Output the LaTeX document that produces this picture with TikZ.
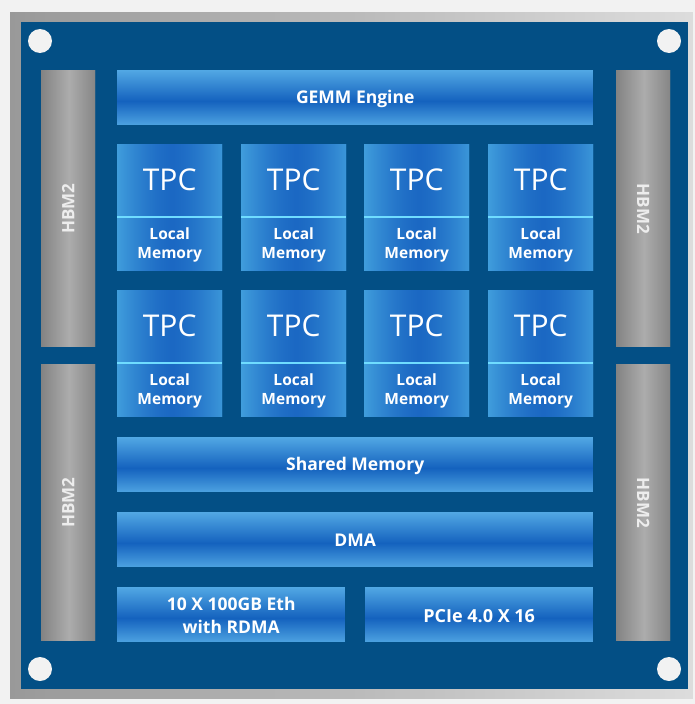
\documentclass[tikz,border=0pt]{standalone}
\usepackage{fontspec}
\setmainfont{Open Sans}
\definecolor{pagebg}{HTML}{F2F2F2}
\definecolor{board}{HTML}{034F85}
\definecolor{blight}{HTML}{52A8E4}
\definecolor{bdark}{HTML}{1462BE}
\definecolor{tlight}{HTML}{409DDC}
\definecolor{tdark}{HTML}{1B68C3}
\definecolor{divline}{HTML}{6FDCFF}
\definecolor{gdark}{HTML}{838383}
\definecolor{glight}{HTML}{ACACAC}
\definecolor{fdark}{HTML}{999999}
\definecolor{flight}{HTML}{DCDCDC}
\definecolor{hbmtext}{HTML}{EDEDED}
\begin{document}
\begin{tikzpicture}[x=1pt,y=-1pt,
  vgrad/.style={path picture={
    \foreach \i in {0,...,54}{
      \pgfmathsetmacro\p{\i<31 ? 100*(1-\i/31) : 88*(\i-31)/23}
      \pgfmathsetmacro\yb{\i+1.4}
      \fill[blight!\p!bdark] ([yshift=-\i pt]path picture bounding box.north west) rectangle ([yshift=-\yb pt]path picture bounding box.north east);
    }}},
  hgradT/.style={path picture={
    \foreach \i in {0,...,105}{
      \pgfmathsetmacro\p{100*(abs(\i-55)/55)^1.5}
      \pgfmathsetmacro\xb{\i+1.4}
      \fill[tlight!\p!tdark] ([xshift=\i pt]path picture bounding box.north west) rectangle ([xshift=\xb pt]path picture bounding box.south west);
    }}},
  hgradH/.style={path picture={
    \foreach \i in {0,...,54}{
      \pgfmathsetmacro\p{abs(\i-28)/28*100}
      \pgfmathsetmacro\xb{\i+1.4}
      \fill[gdark!\p!glight] ([xshift=\i pt]path picture bounding box.north west) rectangle ([xshift=\xb pt]path picture bounding box.south west);
    }}},
  hbar/.style={rectangle, anchor=north west, inner sep=0pt, minimum width=476pt, minimum height=54pt,
    vgrad, text=white, font=\fontsize{17.5}{21}\selectfont\bfseries},
  sbar/.style={hbar, minimum width=228pt, font=\fontsize{18}{22}\selectfont\bfseries},
  barlab/.style={text=white, font=\fontsize{17.5}{21}\selectfont\bfseries},
  tpc/.style={rectangle, anchor=north west, inner sep=0pt, minimum width=105pt, minimum height=127pt, hgradT},
  hbm/.style={rectangle, anchor=north west, inner sep=0pt, minimum width=54pt, minimum height=277pt, hgradH},
  hbmlab/.style={text=hbmtext, font=\fontsize{17}{20}\selectfont\bfseries},
  hole/.style={circle, fill=pagebg, minimum size=24pt, inner sep=0pt},
  tpclab/.style={text=white, font=\fontsize{30}{34}\selectfont},
  lmlab/.style={text=white, align=center, font=\fontsize{15.5}{19.5}\selectfont\bfseries},
]
\useasboundingbox (0,0) rectangle (695,704);
\fill[pagebg] (0,0) rectangle (695,704);
% metal frame
\foreach \i in {0,...,136}{
  \pgfmathsetmacro\p{100*(1-\i/136)}
  \pgfmathsetmacro\xa{10+5*\i}
  \pgfmathsetmacro\xb{\xa+5.5}
  \fill[fdark!\p!flight] (\xa,12) rectangle (\xb,699);
}
\fill[pagebg] (693,0) rectangle (695,704);
\fill[board] (21,22) rectangle (688,689);

\node[hole] (h1) at (40,41) {};
\node[hole] (h2) at (669,41) {};
\node[hole] (h3) at (40,669) {};
\node[hole] (h4) at (669,669) {};

% HBM2 stacks
\node[hbm] (hbmL1) at (41,70) {};
\node[hbm] (hbmL2) at (41,364) {};
\node[hbm] (hbmR1) at (616,70) {};
\node[hbm] (hbmR2) at (616,364) {};
\node[hbmlab, rotate=90] (tL1) at (hbmL1.center) {HBM2};
\node[hbmlab, rotate=90] (tL2) at (hbmL2.center) {HBM2};
\node[hbmlab, rotate=-90] (tR1) at (hbmR1.center) {HBM2};
\node[hbmlab, rotate=-90] (tR2) at (hbmR2.center) {HBM2};

% bars
\node[hbar] (gemm) at (117,70) {};
\node[hbar] (shm) at (117,437) {};
\node[hbar] (dma) at (117,512) {};
\node[sbar] (eth) at (117,587) {};
\node[sbar] (pcie) at (365,587) {};
\node[barlab] (gemmT) at ([yshift=-1.5pt]gemm.center) {GEMM Engine};
\node[barlab] (shmT) at ([yshift=-1.5pt]shm.center) {Shared Memory};
\node[barlab] (dmaT) at ([yshift=-1.5pt]dma.center) {DMA};
\node[barlab, align=center, font=\fontsize{17.5}{23}\selectfont\bfseries] (ethT) at ([yshift=-1pt]eth.center) {10 X 100GB Eth\\with RDMA};
\node[barlab, font=\fontsize{18}{22}\selectfont\bfseries] (pcieT) at ([yshift=-1.5pt]pcie.center) {PCIe 4.0 X 16};

% TPCs
\foreach \c/\x in {1/117,2/241,3/364,4/488}{
  \foreach \r/\y in {1/144,2/290}{
    \node[tpc] (tpc\r\c) at (\x,\y) {};
    \draw[divline, line width=1.6pt] ([yshift=-73pt]tpc\r\c.north west) -- ([yshift=-73pt]tpc\r\c.north east);
    \node[tpclab] (tpct\r\c) at ([yshift=-36pt]tpc\r\c.north) {TPC};
    \node[lmlab] (lm\r\c) at ([yshift=26.5pt]tpc\r\c.south) {Local\\Memory};
  }
}
\end{tikzpicture}
\end{document}
